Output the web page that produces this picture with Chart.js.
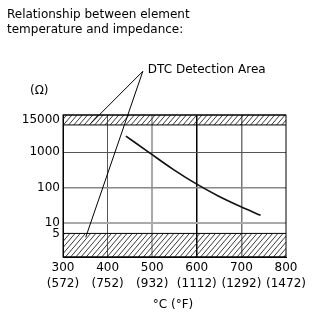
<!DOCTYPE html>
<html lang="en">
<head>
    <meta charset="UTF-8">
    <title>Element temperature vs impedance</title>
    <script src="https://cdn.jsdelivr.net/npm/chart.js@4.4.0/dist/chart.umd.js"></script>
    <style>
        body { margin: 0; background: #fff; }
        #wrap { width: 330px; height: 330px; position: relative; }
    </style>
</head>
<body>
    <div id="wrap"><canvas id="chart"></canvas></div>

    <script>
        // Temperature ticks (°C with °F in brackets)
        const tempC = [300, 400, 500, 600, 700, 800];
        const tempF = [572, 752, 932, 1112, 1292, 1472];

        // Impedance axis ticks (diagram is schematic, 15000 sits in the top band)
        const yTickValues = [8340, 1000, 100, 10, 5];
        const yTickLabels = ['15000', '1000', '100', '10', '5'];

        // Impedance curve
        const curveTemp = [441, 495, 547, 599, 648, 698, 743];
        const curveOhm = [2900, 950, 330, 127, 58, 29, 16.3];

        // DTC detection bands [low, high] in ohms
        const bandLow = [1.07, 5];
        const bandHigh = [6000, 11500];

        // Leader lines: label anchor and band targets (°C, Ω)
        const leaderFrom = [479, 200000];
        const leaderTo = [[362, 6580], [351, 3.9]];

        const FONT = 'DejaVu Sans, sans-serif';
        Chart.defaults.font.family = FONT;
        Chart.defaults.font.size = 12;
        Chart.defaults.color = '#000';

        // Draw hatched band between two pixel rows
        function hatch(ctx, area, top, bottom) {
            ctx.save();
            ctx.beginPath();
            ctx.rect(area.left, top, area.right - area.left, bottom - top);
            ctx.clip();
            ctx.beginPath();
            const h = bottom - top;
            for (let x = area.left - h; x < area.right + 6; x += 5.2) {
                ctx.moveTo(x, bottom);
                ctx.lineTo(x + h * 0.85, top);
            }
            ctx.strokeStyle = '#222';
            ctx.lineWidth = 0.9;
            ctx.stroke();
            ctx.restore();
            ctx.save();
            ctx.strokeStyle = '#000';
            ctx.lineWidth = 1;
            ctx.beginPath();
            ctx.moveTo(area.left, top);
            ctx.lineTo(area.right, top);
            ctx.moveTo(area.left, bottom);
            ctx.lineTo(area.right, bottom);
            ctx.stroke();
            ctx.restore();
        }

        const decor = {
            id: 'decor',
            beforeDatasetsDraw(chart) {
                const { ctx, chartArea: a, scales: { x, y } } = chart;
                hatch(ctx, a, y.getPixelForValue(bandLow[1]), y.getPixelForValue(bandLow[0]));
                hatch(ctx, a, y.getPixelForValue(bandHigh[1]), y.getPixelForValue(bandHigh[0]));
                ctx.save();
                ctx.strokeStyle = '#000';
                ctx.lineWidth = 1;
                ctx.strokeRect(a.left, a.top, a.right - a.left, a.bottom - a.top);
                ctx.restore();
            },
            afterDraw(chart) {
                const { ctx, chartArea: a, scales: { x, y } } = chart;
                ctx.save();
                ctx.fillStyle = '#000';
                ctx.font = '12px ' + FONT;
                ctx.textBaseline = 'middle';
                ctx.textAlign = 'left';
                ctx.fillText('Relationship between element', 7, 15);
                ctx.fillText('temperature and impedance:', 7, 29.5);
                ctx.fillText('(\u03A9)', 30, 90.5);

                // leader lines to the bands
                const fx = x.getPixelForValue(leaderFrom[0]);
                const fy = y.getPixelForValue(leaderFrom[1]);
                ctx.strokeStyle = '#000';
                ctx.lineWidth = 1;
                ctx.beginPath();
                leaderTo.forEach(p => {
                    ctx.moveTo(fx, fy);
                    ctx.lineTo(x.getPixelForValue(p[0]), y.getPixelForValue(p[1]));
                });
                ctx.stroke();
                ctx.fillText('DTC Detection Area', fx + 5, fy - 1.5);

                ctx.textAlign = 'center';
                ctx.fillText('\u00B0C (\u00B0F)', (a.left + a.right) / 2 - 1.5, 305);
                ctx.restore();
            }
        };

        // Gridline styles per tick value
        const xGridColor = { 400: '#555', 500: '#aaa', 600: '#000', 700: '#777' };
        const xGridWidth = { 400: 1, 500: 2, 600: 1.5, 700: 1.5 };
        const yGridColor = { 1000: '#555', 100: '#888', 10: '#aaa' };
        const yGridWidth = { 1000: 1, 100: 1.5, 10: 2 };

        new Chart(document.getElementById('chart'), {
            type: 'line',
            data: {
                datasets: [{
                    data: curveTemp.map((t, i) => ({ x: t, y: curveOhm[i] })),
                    borderColor: '#111',
                    borderWidth: 1.6,
                    pointRadius: 0,
                    cubicInterpolationMode: 'monotone',
                    fill: false
                }]
            },
            options: {
                responsive: true,
                maintainAspectRatio: false,
                animation: false,
                layout: { padding: { top: 115, right: 44, left: 0, bottom: 0 } },
                plugins: { legend: { display: false }, tooltip: { enabled: false } },
                scales: {
                    x: {
                        type: 'linear',
                        min: tempC[0],
                        max: tempC[tempC.length - 1],
                        afterBuildTicks: s => { s.ticks = tempC.map(v => ({ value: v })); },
                        afterFit: s => { s.height = 73; },
                        ticks: {
                            padding: 2,
                            autoSkip: false,
                            maxRotation: 0,
                            font: { size: 12, lineHeight: 1.4 },
                            callback: (v, i) => [String(tempC[i]), '(' + tempF[i] + ')']
                        },
                        grid: {
                            drawTicks: false,
                            color: c => xGridColor[c.tick && c.tick.value] || 'rgba(0,0,0,0)',
                            lineWidth: c => xGridWidth[c.tick && c.tick.value] || 1
                        },
                        border: { color: '#000', width: 1 }
                    },
                    y: {
                        type: 'logarithmic',
                        min: bandLow[0],
                        max: bandHigh[1],
                        afterBuildTicks: s => { s.ticks = yTickValues.map(v => ({ value: v })); },
                        afterFit: s => { s.width = 63; },
                        ticks: {
                            padding: 3,
                            autoSkip: false,
                            font: { size: 12 },
                            callback: (v, i) => yTickLabels[i]
                        },
                        grid: {
                            drawTicks: false,
                            color: c => yGridColor[c.tick && c.tick.value] || 'rgba(0,0,0,0)',
                            lineWidth: c => yGridWidth[c.tick && c.tick.value] || 1
                        },
                        border: { color: '#000', width: 1 }
                    }
                }
            },
            plugins: [decor]
        });
    </script>
</body>
</html>
